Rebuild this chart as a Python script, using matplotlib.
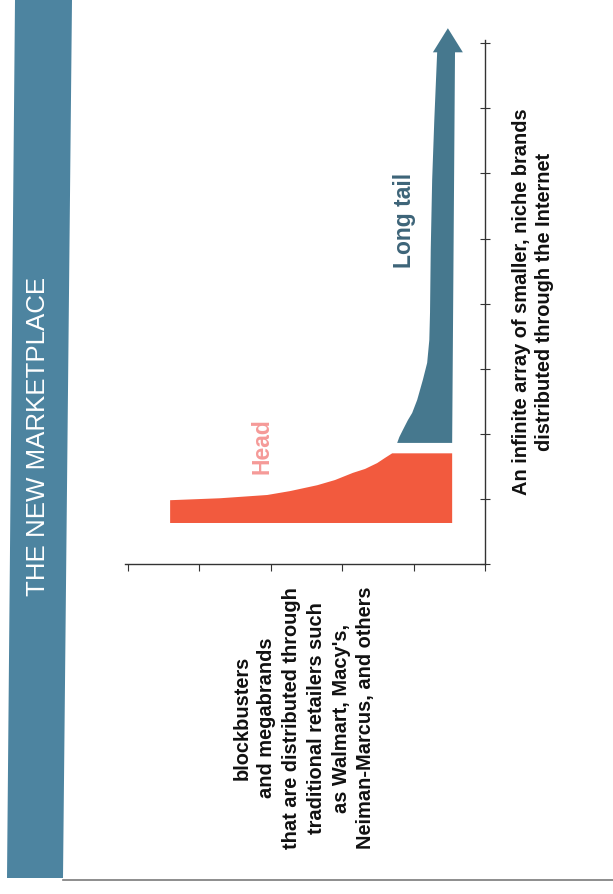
import matplotlib
matplotlib.use('Agg')
import matplotlib.pyplot as plt
from matplotlib import font_manager
from matplotlib.patches import Polygon
from matplotlib.lines import Line2D

# the scan shows the long-tail chart turned on its side:
# rank runs up the page, popularity runs to the left
HEAD_POP = [0.46, 4.41, 4.41, 3.71, 3.05, 2.73, 2.35, 2.10, 1.85, 1.68,
            1.51, 1.40, 1.30, 0.46]
HEAD_RANK = [0.63, 0.63, 0.98, 1.01, 1.06, 1.12, 1.21, 1.29, 1.40, 1.46,
             1.55, 1.63, 1.70, 1.70]

TAIL_POP = [0.46, 1.23, 1.20, 1.15, 1.08, 1.02, 0.95, 0.87, 0.81, 0.78,
            0.77, 0.76, 0.74, 0.71, 0.67, 0.73, 0.52, 0.31, 0.42]
TAIL_RANK = [1.86, 1.86, 1.95, 2.06, 2.21, 2.32, 2.52, 2.83, 3.09, 3.44,
             3.86, 4.82, 5.90, 6.82, 7.86, 7.86, 8.23, 7.86, 7.86]

POP_TICKS = [0, 1, 2, 3, 4, 5]
RANK_TICKS = [0, 1, 2, 3, 4, 5, 6, 7, 8]

TITLE = "THE NEW MARKETPLACE"
HEAD_LABEL = "Head"
TAIL_LABEL = "Long tail"
TAIL_NOTE = "An infinite array of smaller, niche brands\ndistributed through the Internet"
HEAD_NOTE = ("blockbusters\nand megabrands\nthat are distributed through\n"
             "traditional retailers such\nas Walmart, Macy's,\nNeiman-Marcus, and others")

BAND = '#4d84a0'
TAIL_COLOR = '#46788e'
HEAD_COLOR = '#f25a3e'

W, H = 613, 894

names = {f.name for f in font_manager.fontManager.ttflist}
if 'Liberation Sans Narrow' in names:
    FAMILY, SCALE, LS = 'Liberation Sans Narrow', 1 / 0.82, 1.12
else:
    FAMILY, SCALE, LS = 'Liberation Sans', 1.0, 1.38


def px(x, y):
    return x / W, 1 - y / H


fig = plt.figure(figsize=(W / 100, H / 100), dpi=100)

# blue title band down the left edge (slightly skewed like the scan)
band = Polygon([px(15, 0), px(72, 0), px(63, 878), px(7, 878)], closed=True,
               transform=fig.transFigure, facecolor=BAND, edgecolor='none')
fig.add_artist(band)
fig.add_artist(Line2D([63 / W, 1], [1 - 880 / H] * 2, color='#7a7a7a', lw=1.2))

fig.text(*px(38, 436), TITLE, rotation=90, ha='center', va='center',
         color='white', fontsize=18.6 * SCALE, family=FAMILY)

# chart axes: x = popularity (grows to the left), y = rank
ax = fig.add_axes([125 / W, 1 - 564 / H, 360 / W, 8.3 * 65.1 / H])
ax.set_xlim(360 / 71.4, 0)
ax.set_ylim(0, 8.3)
ax.patch.set_alpha(0)

ax.fill(HEAD_POP, HEAD_RANK, color=HEAD_COLOR, lw=0)
ax.fill(TAIL_POP, TAIL_RANK, color=TAIL_COLOR, lw=0, clip_on=False)

for s in ['top', 'left']:
    ax.spines[s].set_visible(False)
for s in ['right', 'bottom']:
    ax.spines[s].set_color('#333333')
    ax.spines[s].set_linewidth(1.0)
ax.spines['right'].set_bounds(0, 8.05)

ax.yaxis.tick_right()
ax.set_xticks(POP_TICKS)
ax.set_yticks(RANK_TICKS)
ax.tick_params(axis='x', direction='out', length=5, color='#333333', labelbottom=False)
ax.tick_params(axis='y', direction='inout', length=7, color='#333333', labelright=False)

fig.text(*px(262, 446), HEAD_LABEL, rotation=90, ha='center', va='center',
         color='#f59a98', fontsize=16.5 * SCALE, fontweight='bold', family=FAMILY)
fig.text(*px(405, 220), TAIL_LABEL, rotation=90, ha='center', va='center',
         color='#3d6478', fontsize=16.5 * SCALE, fontweight='bold', family=FAMILY)
fig.text(*px(533, 302), TAIL_NOTE, rotation=90, ha='center', va='center',
         multialignment='center', linespacing=LS * 0.96,
         color='#111111', fontsize=14.4 * SCALE, fontweight='bold', family=FAMILY)
fig.text(*px(304, 718), HEAD_NOTE, rotation=90, ha='center', va='center',
         multialignment='center', linespacing=LS,
         color='#111111', fontsize=14.4 * SCALE, fontweight='bold', family=FAMILY)

fig.savefig('out.png', dpi=100)
